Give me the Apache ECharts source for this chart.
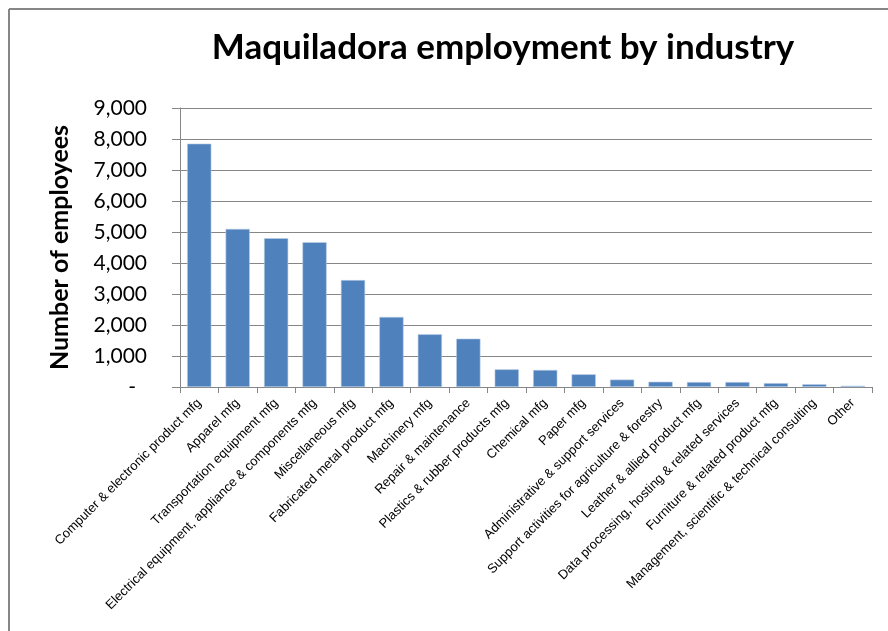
<!DOCTYPE html>
<html>
<head>
<meta charset="utf-8">
<style>
  html, body { margin: 0; padding: 0; background: #fff; }
  #chart { width: 888px; height: 631px; }
</style>
<script src="https://cdn.jsdelivr.net/npm/echarts@6/dist/echarts.min.js"></script>
</head>
<body>
<div id="chart"></div>
<script>
// Industry categories (x axis)
const industries = [
  'Computer & electronic product mfg',
  'Apparel mfg',
  'Transportation equipment mfg',
  'Electrical equipment, appliance & components mfg',
  'Miscellaneous mfg',
  'Fabricated metal product mfg',
  'Machinery mfg',
  'Repair & maintenance',
  'Plastics & rubber products mfg',
  'Chemical mfg',
  'Paper mfg',
  'Administrative & support services',
  'Support activities for agriculture & forestry',
  'Leather & allied product mfg',
  'Data processing, hosting & related services',
  'Furniture & related product mfg',
  'Management, scientific & technical consulting',
  'Other'
];

// Number of employees per industry
const employees = [7850, 5100, 4800, 4670, 3450, 2260, 1700, 1560, 570, 550, 410, 240, 170, 160, 160, 125, 90, 40];

// Value axis ticks
const yMin = 0;
const yMax = 9000;
const yStep = 1000;

const chart = echarts.init(document.getElementById('chart'));

const fmt = v => v.toLocaleString('en-US');

chart.setOption({
  animation: false,
  backgroundColor: '#ffffff',
  title: {
    text: 'Maquiladora employment by industry',
    left: 498,
    top: 25,
    textAlign: 'center',
    textStyle: {
      fontFamily: 'Lato',
      fontWeight: 'bold',
      fontSize: 35,
      color: '#000000'
    }
  },
  graphic: [
    { type: 'line', shape: { x1: 9, y1: 9, x2: 888, y2: 9 }, style: { stroke: '#868686', lineWidth: 2 } },
    { type: 'line', shape: { x1: 9, y1: 9, x2: 9, y2: 631 }, style: { stroke: '#868686', lineWidth: 2 } }
  ],
  grid: {
    left: 180,
    right: 16,
    top: 108,
    bottom: 244,
    containLabel: false
  },
  xAxis: {
    type: 'category',
    data: industries,
    axisLine: { lineStyle: { color: '#868686', width: 1 } },
    axisTick: { show: true, alignWithLabel: false, length: 6, lineStyle: { color: '#868686' } },
    axisLabel: {
      interval: 0,
      rotate: 45,
      margin: 14,
      fontFamily: 'Liberation Sans',
      fontSize: 13,
      color: '#000000'
    }
  },
  yAxis: {
    type: 'value',
    min: yMin,
    max: yMax,
    interval: yStep,
    name: 'Number of employees',
    nameLocation: 'middle',
    nameGap: 108,
    nameTextStyle: {
      fontFamily: 'Lato',
      fontWeight: 'bold',
      fontSize: 25,
      color: '#000000'
    },
    axisLine: { show: true, lineStyle: { color: '#868686', width: 1 } },
    axisTick: { show: true, length: 8, lineStyle: { color: '#868686' } },
    splitLine: { show: true, lineStyle: { color: '#868686', width: 1 } },
    axisLabel: {
      margin: 33,
      fontFamily: 'Lato',
      fontSize: 21,
      color: '#000000',
      formatter: v => v === 0 ? '{z|-}' : fmt(v),
      rich: { z: { fontFamily: 'Lato', fontSize: 21, padding: [0, 11, 0, 0] } }
    }
  },
  series: [{
    type: 'bar',
    data: employees,
    barCategoryGap: '37%',
    itemStyle: {
      color: '#4F81BD',
      borderColor: '#B9CDE5',
      borderWidth: 0.6
    }
  }]
});
</script>
</body>
</html>
